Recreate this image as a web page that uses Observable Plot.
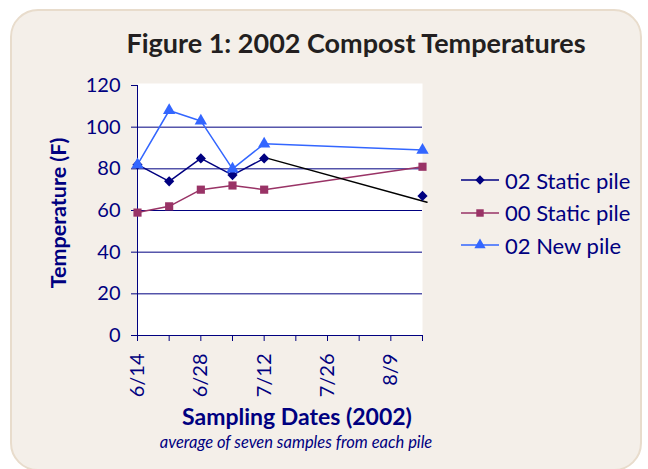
<!DOCTYPE html>
<html>
<head>
<meta charset="utf-8">
<script src="https://cdn.jsdelivr.net/npm/d3@7"></script>
<script src="https://cdn.jsdelivr.net/npm/@observablehq/plot@0.6"></script>
<style>
  html, body { margin: 0; padding: 0; background: #ffffff; }
  #wrap { position: relative; width: 648px; height: 469px; overflow: hidden; font-family: Lato, "Open Sans", sans-serif; }
  #box { position: absolute; left: 10px; top: 9px; width: 632px; height: 462px; box-sizing: border-box;
         border: 2.5px solid #e8dccc; border-radius: 28px; background: #f4efe9; }
  #chart { position: absolute; left: 0; top: 0; }
  .t { position: absolute; white-space: nowrap; }
  #title { left: 356px; top: 42px; transform: translate(-50%, -50%); font-size: 27px; font-weight: bold; color: #231f20; }
  #ylab { left: 58px; top: 213px; transform: translate(-50%, -50%) rotate(-90deg); font-size: 21.5px; font-weight: bold; color: #000080; }
  #xlab { left: 297px; top: 416px; transform: translate(-50%, -50%); font-size: 23px; font-weight: bold; color: #000080; }
  #cap { left: 296px; top: 442px; transform: translate(-50%, -50%); font-size: 16.5px; font-style: italic; color: #000080; }
  #legend { position: absolute; left: 461px; top: 164px; }
  .row { display: flex; align-items: center; height: 32.5px; }
  .row span { font-size: 22px; color: #000080; margin-left: 5px; }
</style>
</head>
<body>
<div id="wrap">
  <div id="box"></div>
  <div id="chart"></div>
  <div class="t" id="title">Figure 1: 2002 Compost Temperatures</div>
  <div class="t" id="ylab">Temperature (F)</div>
  <div class="t" id="xlab">Sampling Dates (2002)</div>
  <div class="t" id="cap">average of seven samples from each pile</div>
  <div id="legend"></div>
</div>
<script>
// ---- data ----
const sampleDates = ["2002-06-14", "2002-06-21", "2002-06-28", "2002-07-05", "2002-07-12", "2002-08-16"];
const static02 = [82, 74, 85, 77, 85, 67];
const static00 = [59, 62, 70, 72, 70, 81];
const newPile = [82, 108, 103, 80, 92, 89];
const seriesNames = ["02 Static pile", "00 Static pile", "02 New pile"];
const seriesColors = ["#000080", "#993366", "#3366ff"];
const seriesSymbols = ["diamond2", "square", "triangle"];
// black line drawn over the chart from 7/12 toward the end
const blackLineDates = ["2002-07-12", "2002-08-17"];
const blackLineValues = [85.5, 64];
const yTicks = [0, 20, 40, 60, 80, 100, 120];
const gridValues = [20, 40, 60, 80, 100];
const xTickDates = ["2002-06-14", "2002-06-21", "2002-06-28", "2002-07-05", "2002-07-12", "2002-07-19", "2002-07-26", "2002-08-02", "2002-08-09", "2002-08-16"];
const xLabelDates = ["2002-06-14", "2002-06-28", "2002-07-12", "2002-07-26", "2002-08-09"];

const parse = d3.utcParse("%Y-%m-%d");
const fmt = d3.utcFormat("%-m/%-d");
const seriesValues = [static02, static00, newPile];
const rows = [];
seriesValues.forEach((vals, s) => vals.forEach((v, i) => rows.push({series: seriesNames[s], date: parse(sampleDates[i]), value: v, idx: i})));
// lines: 02 static pile does not connect to its last point (a black line is drawn instead)
const lineRows = rows.filter(r => !(r.series === seriesNames[0] && r.idx === sampleDates.length - 1));
const blackRows = blackLineDates.map((d, i) => ({date: parse(d), value: blackLineValues[i]}));
const xDomain = [parse(xTickDates[0]), parse(xTickDates[xTickDates.length - 1])];

const navy = "#000080";
const chart = Plot.plot({
  width: 648, height: 469,
  marginLeft: 137, marginRight: 226, marginTop: 85, marginBottom: 134,
  style: {background: "transparent", fontFamily: "Lato, 'Open Sans', sans-serif"},
  x: {type: "utc", domain: xDomain},
  y: {domain: [0, 120]},
  color: {domain: seriesNames, range: seriesColors},
  symbol: {domain: seriesNames, range: seriesSymbols},
  marks: [
    Plot.frame({fill: "white", stroke: null, insetTop: -2}),
    Plot.ruleY(gridValues, {stroke: navy, strokeWidth: 1}),
    Plot.ruleY([0], {stroke: navy, strokeWidth: 1}),
    Plot.ruleX([xDomain[0]], {y1: 0, y2: 120, stroke: navy, strokeWidth: 1}),
    Plot.axisY({ticks: yTicks, tickSize: 6, tickPadding: 11, stroke: navy, fill: navy, fontSize: 20, label: null}),
    Plot.axisX({ticks: xTickDates.map(parse), tickSize: 6, stroke: navy, text: null, label: null}),
    Plot.axisX({ticks: xLabelDates.map(parse), tickSize: 0, tickPadding: 18, tickRotate: -90, fill: navy, fontSize: 20, tickFormat: fmt, label: null}),
    Plot.line(lineRows, {x: "date", y: "value", z: "series", stroke: "series", strokeWidth: 1.5}),
    Plot.line(blackRows, {x: "date", y: "value", stroke: "black", strokeWidth: 1.5}),
    Plot.dot(rows, {x: "date", y: "value", symbol: "series", fill: "series", stroke: null, r: 4.6})
  ]
});
document.getElementById("chart").appendChild(chart);

// legend
const symMap = {diamond2: d3.symbolDiamond2, square: d3.symbolSquare, triangle: d3.symbolTriangle};
const legend = document.getElementById("legend");
seriesNames.forEach((name, i) => {
  const row = document.createElement("div");
  row.className = "row";
  const sym = d3.symbol(symMap[seriesSymbols[i]], Math.PI * 4.2 * 4.2)();
  row.innerHTML = `<svg width="39" height="14"><line x1="0" x2="38" y1="7" y2="7" stroke="${seriesColors[i]}" stroke-width="1.5"/><path d="${sym}" transform="translate(19,7)" fill="${seriesColors[i]}"/></svg><span>${name}</span>`;
  legend.appendChild(row);
});
</script>
</body>
</html>
